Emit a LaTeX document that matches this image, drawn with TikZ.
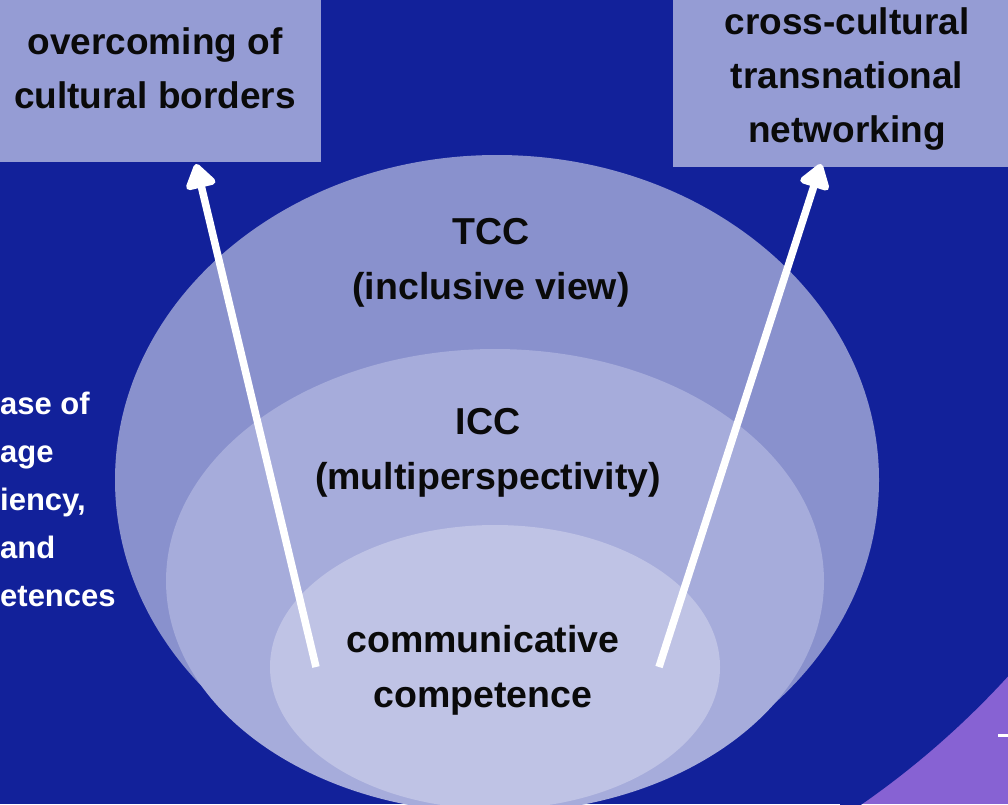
\documentclass[tikz,border=0pt]{standalone}
\usepackage{fontspec}
\setmainfont{Liberation Sans}
\usetikzlibrary{arrows.meta}
\definecolor{bgblue}{RGB}{18,33,154}
\definecolor{boxblue}{RGB}{149,156,212}
\definecolor{outerring}{RGB}{137,145,205}
\definecolor{midring}{RGB}{166,172,219}
\definecolor{innerring}{RGB}{191,195,229}
\definecolor{cornerpurple}{RGB}{135,98,211}
\definecolor{inktext}{RGB}{10,10,10}

\begin{document}
\begin{tikzpicture}[x=1pt,y=-1pt,
  goalbox/.style={fill=boxblue,text=inktext,font=\fontsize{37}{54}\selectfont\bfseries,align=center,inner sep=0pt},
  ringtext/.style={text=inktext,font=\fontsize{37.5}{55}\selectfont\bfseries,align=center,inner sep=0pt},
  uparrow/.style={white,line width=7.5pt,-{Triangle[width=34pt,length=27pt,round]}}]
\useasboundingbox (0,0) rectangle (1008,804);
\clip (0,0) rectangle (1008,804);
\fill[bgblue] (0,0) rectangle (1008,804);
% purple corner
\begin{scope}
\clip (840,650) rectangle (1008,804);
\fill[cornerpurple] (840,650) rectangle (1008,804);
\fill[bgblue] (367,91) circle (868pt);
\end{scope}
\draw[white,line width=3.5pt] (998,735.5)--(1010,735.5);
% rings
\fill[outerring] (497,480) ellipse [x radius=382pt,y radius=325pt];
\fill[midring] (495,581) ellipse [x radius=329pt,y radius=232pt];
\fill[innerring] (495,667) ellipse [x radius=225pt,y radius=142pt];
\node[ringtext] (tcc) at (491,263) {TCC\\(inclusive view)};
\node[ringtext] (icc) at (488,453) {ICC\\(multiperspectivity)};
\node[ringtext] (comm) at (483,670) {communicative\\competence};
% boxes
\node[goalbox,minimum width=332pt,minimum height=188pt] (borders) at (155,68) {overcoming of\\cultural borders};
\node[goalbox,minimum width=348pt,minimum height=176pt] (network) at (847,79) {cross-cultural\\transnational\\networking};
\node[text=white,font=\fontsize{31}{48}\selectfont\bfseries,align=left,anchor=west,inner sep=0pt] (usage) at (0,499) {ase of\\age\\iency,\\and\\etences};
% arrows
\coordinate (lfoot) at (316,667);
\coordinate (ltip) at (196,164);
\coordinate (rfoot) at (659,667);
\coordinate (rtip) at (821,164);
\draw[uparrow] (lfoot) -- (ltip);
\draw[uparrow] (rfoot) -- (rtip);
\end{tikzpicture}
\end{document}
